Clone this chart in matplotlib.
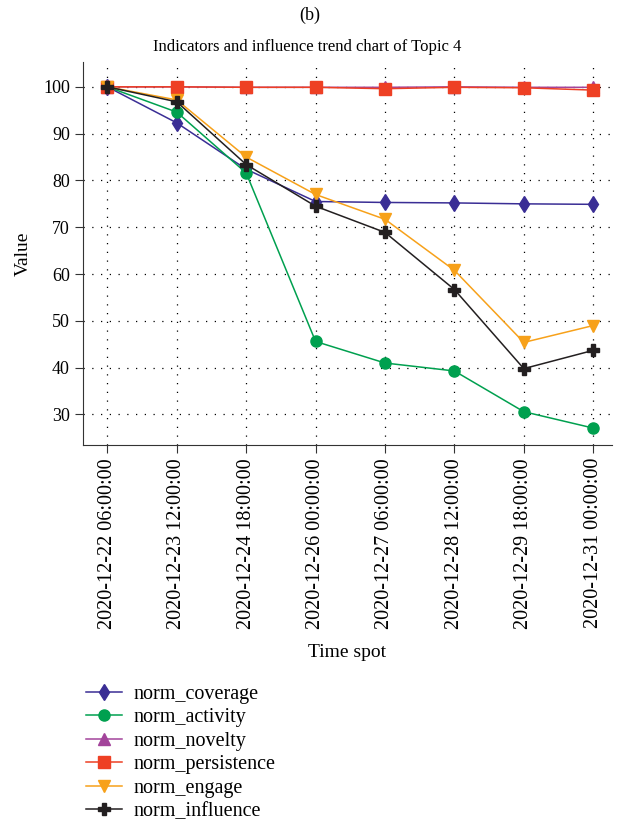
import numpy as np
import matplotlib
matplotlib.use("Agg")
import matplotlib.pyplot as plt

# Data
time_spots = ["2020-12-22 06:00:00", "2020-12-23 12:00:00", "2020-12-24 18:00:00",
              "2020-12-26 00:00:00", "2020-12-27 06:00:00", "2020-12-28 12:00:00",
              "2020-12-29 18:00:00", "2020-12-31 00:00:00"]
norm_coverage = [100, 92.3, 82.4, 75.5, 75.3, 75.2, 75.0, 74.9]
norm_activity = [100, 94.6, 81.6, 45.6, 41.0, 39.3, 30.6, 27.1]
norm_novelty = [100, 100, 99.9, 99.9, 99.9, 100, 99.9, 99.9]
norm_persistence = [100, 100, 99.9, 99.9, 99.6, 99.9, 99.8, 99.3]
norm_engage = [100, 97.2, 85.0, 77.0, 71.7, 60.8, 45.4, 49.0]
norm_influence = [100, 96.8, 83.4, 74.5, 68.9, 56.7, 39.8, 43.7]

plt.rcParams['font.family'] = ['Liberation Serif', 'DejaVu Serif']

fig = plt.figure(figsize=(6.2, 8.27), dpi=100)
ax = fig.add_axes([0.134, 0.462, 0.853, 0.463])

x = np.arange(len(time_spots))
series = [
    ("norm_coverage", norm_coverage, "#3a2e95", "d", 8),
    ("norm_activity", norm_activity, "#00a04f", "o", 8),
    ("norm_novelty", norm_novelty, "#a3449b", "^", 8),
    ("norm_persistence", norm_persistence, "#ee4024", "s", 8),
    ("norm_engage", norm_engage, "#f7a11a", "v", 8),
    ("norm_influence", norm_influence, "#231f20", "P", 9),
]
for name, vals, col, mk, ms in series:
    ax.plot(x, vals, color=col, marker=mk, markersize=ms, linewidth=1.1, label=name)

ax.set_xlim(-0.35, 7.27)
ax.set_ylim(23.5, 105.3)
ax.set_xticks(x)
ax.set_xticklabels(time_spots, rotation=90, fontsize=14.5)
ax.set_yticks([30, 40, 50, 60, 70, 80, 90, 100])
ax.tick_params(axis='y', labelsize=13, length=6, color='#333333')
ax.tick_params(axis='x', length=6, color='#333333')
ax.grid(True, color='black', linestyle=(0, (1, 6)), linewidth=0.9)
ax.spines['top'].set_visible(False)
ax.spines['right'].set_visible(False)
ax.spines['left'].set_color('#333333')
ax.spines['bottom'].set_color('#333333')

ax.set_xlabel("Time spot", fontsize=14, labelpad=11)
ax.set_ylabel("Value", fontsize=14, labelpad=8)
fig.text(0.495, 0.943, "Indicators and influence trend chart of Topic 4",
         ha='center', va='center', fontsize=12)
fig.text(0.5, 0.982, "(b)", ha='center', va='center', fontsize=13)

fig.legend(loc='upper left', bbox_to_anchor=(0.125, 0.182), frameon=False,
           fontsize=14.5, handlelength=1.8, handletextpad=0.6,
           labelspacing=0.22, borderaxespad=0)

fig.savefig("out.png", dpi=100)
